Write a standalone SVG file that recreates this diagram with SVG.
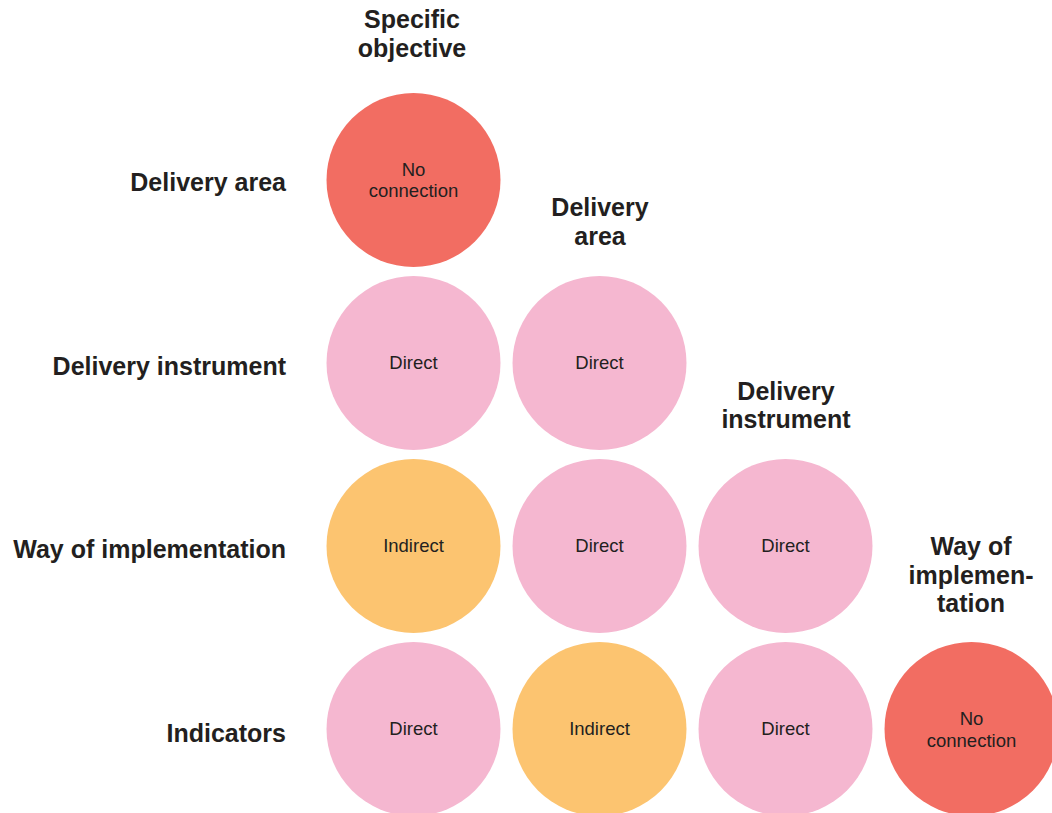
<svg xmlns="http://www.w3.org/2000/svg" width="1052" height="813" viewBox="0 0 1052 813">
<style>
.hdr{font-family:"Liberation Sans",Arial,sans-serif;font-weight:bold;font-size:25px;fill:#231f20;text-anchor:middle}
.row{font-family:"Liberation Sans",Arial,sans-serif;font-weight:bold;font-size:25px;fill:#231f20;text-anchor:end}
.lbl{font-family:"Liberation Sans",Arial,sans-serif;font-size:18.5px;fill:#231f20;text-anchor:middle}
.none{fill:#f26d62}
.direct{fill:#f5b7d0}
.indirect{fill:#fcc470}
</style>
<rect width="1052" height="813" fill="#ffffff"/>
<g id="row-labels">
<text class="row" x="286" y="191">Delivery area</text>
<text class="row" x="286" y="375">Delivery instrument</text>
<text class="row" x="286" y="558">Way of implementation</text>
<text class="row" x="286" y="742">Indicators</text>
</g>
<g id="col-headers">
<text class="hdr" x="412" y="28">Specific</text>
<text class="hdr" x="412" y="57">objective</text>
<text class="hdr" x="600" y="216">Delivery</text>
<text class="hdr" x="600" y="245">area</text>
<text class="hdr" x="786" y="400">Delivery</text>
<text class="hdr" x="786" y="428">instrument</text>
<text class="hdr" x="971" y="555">Way of</text>
<text class="hdr" x="971" y="584">implemen-</text>
<text class="hdr" x="971" y="612">tation</text>
</g>
<g id="n-so-da"><circle class="none" cx="413.5" cy="180" r="87"/><text class="lbl" x="413.5" y="176">No</text><text class="lbl" x="413.5" y="197">connection</text></g>
<g id="n-so-di"><circle class="direct" cx="413.5" cy="363" r="87"/><text class="lbl" x="413.5" y="369">Direct</text></g>
<g id="n-da-di"><circle class="direct" cx="599.5" cy="363" r="87"/><text class="lbl" x="599.5" y="369">Direct</text></g>
<g id="n-so-wi"><circle class="indirect" cx="413.5" cy="546" r="87"/><text class="lbl" x="413.5" y="552">Indirect</text></g>
<g id="n-da-wi"><circle class="direct" cx="599.5" cy="546" r="87"/><text class="lbl" x="599.5" y="552">Direct</text></g>
<g id="n-di-wi"><circle class="direct" cx="785.5" cy="546" r="87"/><text class="lbl" x="785.5" y="552">Direct</text></g>
<g id="n-so-in"><circle class="direct" cx="413.5" cy="729" r="87"/><text class="lbl" x="413.5" y="735">Direct</text></g>
<g id="n-da-in"><circle class="indirect" cx="599.5" cy="729" r="87"/><text class="lbl" x="599.5" y="735">Indirect</text></g>
<g id="n-di-in"><circle class="direct" cx="785.5" cy="729" r="87"/><text class="lbl" x="785.5" y="735">Direct</text></g>
<g id="n-wi-in"><circle class="none" cx="971.5" cy="729" r="87"/><text class="lbl" x="971.5" y="725">No</text><text class="lbl" x="971.5" y="747">connection</text></g>
<g id="connectors"/>
</svg>
